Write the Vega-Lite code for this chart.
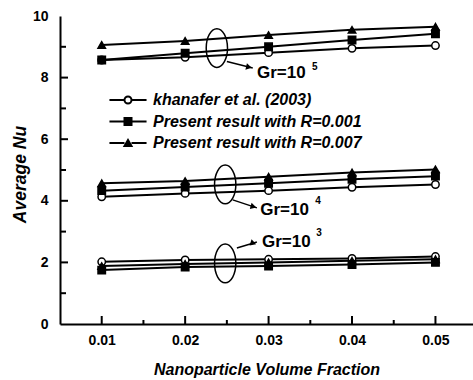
{
  "$schema": "https://vega.github.io/schema/vega-lite/v6.json",
  "width": 413,
  "height": 308,
  "autosize": {"type": "none"},
  "padding": {"left": 60, "top": 16, "right": 0, "bottom": 56},
  "background": "white",
  "config": {
    "view": {"stroke": null},
    "font": "Liberation Sans",
    "axis": {
      "domainColor": "black", "domainWidth": 2, "tickColor": "black", "tickWidth": 2,
      "labelColor": "black", "labelFont": "Liberation Sans", "labelFontWeight": "bold", "labelFontSize": 14,
      "titleFont": "Liberation Sans", "titleFontWeight": "bold", "titleFontStyle": "italic",
      "titleColor": "black", "grid": false
    },
    "legend": {
      "labelFont": "Liberation Sans", "labelFontWeight": "bold", "labelFontStyle": "italic", "labelFontSize": 16,
      "labelColor": "black", "labelLimit": 400, "symbolStrokeColor": "black", "symbolStrokeWidth": 2, "symbolSize": 49,
      "symbolOpacity": 1, "padding": 0
    }
  },
  "resolve": {"axis": {"x": "independent", "y": "independent"}},
  "datasets": {
    "nu": [
      {"phi": 0.01, "Nu": 8.57, "series": "khanafer et al. (2003)", "Gr": "1e5"},
      {"phi": 0.02, "Nu": 8.66, "series": "khanafer et al. (2003)", "Gr": "1e5"},
      {"phi": 0.03, "Nu": 8.81, "series": "khanafer et al. (2003)", "Gr": "1e5"},
      {"phi": 0.04, "Nu": 8.95, "series": "khanafer et al. (2003)", "Gr": "1e5"},
      {"phi": 0.05, "Nu": 9.04, "series": "khanafer et al. (2003)", "Gr": "1e5"},
      {"phi": 0.01, "Nu": 4.13, "series": "khanafer et al. (2003)", "Gr": "1e4"},
      {"phi": 0.02, "Nu": 4.24, "series": "khanafer et al. (2003)", "Gr": "1e4"},
      {"phi": 0.03, "Nu": 4.33, "series": "khanafer et al. (2003)", "Gr": "1e4"},
      {"phi": 0.04, "Nu": 4.44, "series": "khanafer et al. (2003)", "Gr": "1e4"},
      {"phi": 0.05, "Nu": 4.53, "series": "khanafer et al. (2003)", "Gr": "1e4"},
      {"phi": 0.01, "Nu": 2.02, "series": "khanafer et al. (2003)", "Gr": "1e3"},
      {"phi": 0.02, "Nu": 2.08, "series": "khanafer et al. (2003)", "Gr": "1e3"},
      {"phi": 0.03, "Nu": 2.1, "series": "khanafer et al. (2003)", "Gr": "1e3"},
      {"phi": 0.04, "Nu": 2.13, "series": "khanafer et al. (2003)", "Gr": "1e3"},
      {"phi": 0.05, "Nu": 2.19, "series": "khanafer et al. (2003)", "Gr": "1e3"},
      {"phi": 0.01, "Nu": 8.57, "series": "Present result with R=0.001", "Gr": "1e5"},
      {"phi": 0.02, "Nu": 8.79, "series": "Present result with R=0.001", "Gr": "1e5"},
      {"phi": 0.03, "Nu": 9.0, "series": "Present result with R=0.001", "Gr": "1e5"},
      {"phi": 0.04, "Nu": 9.22, "series": "Present result with R=0.001", "Gr": "1e5"},
      {"phi": 0.05, "Nu": 9.42, "series": "Present result with R=0.001", "Gr": "1e5"},
      {"phi": 0.01, "Nu": 4.33, "series": "Present result with R=0.001", "Gr": "1e4"},
      {"phi": 0.02, "Nu": 4.45, "series": "Present result with R=0.001", "Gr": "1e4"},
      {"phi": 0.03, "Nu": 4.57, "series": "Present result with R=0.001", "Gr": "1e4"},
      {"phi": 0.04, "Nu": 4.7, "series": "Present result with R=0.001", "Gr": "1e4"},
      {"phi": 0.05, "Nu": 4.8, "series": "Present result with R=0.001", "Gr": "1e4"},
      {"phi": 0.01, "Nu": 1.75, "series": "Present result with R=0.001", "Gr": "1e3"},
      {"phi": 0.02, "Nu": 1.85, "series": "Present result with R=0.001", "Gr": "1e3"},
      {"phi": 0.03, "Nu": 1.88, "series": "Present result with R=0.001", "Gr": "1e3"},
      {"phi": 0.04, "Nu": 1.93, "series": "Present result with R=0.001", "Gr": "1e3"},
      {"phi": 0.05, "Nu": 2.0, "series": "Present result with R=0.001", "Gr": "1e3"},
      {"phi": 0.01, "Nu": 9.06, "series": "Present result with R=0.007", "Gr": "1e5"},
      {"phi": 0.02, "Nu": 9.19, "series": "Present result with R=0.007", "Gr": "1e5"},
      {"phi": 0.03, "Nu": 9.38, "series": "Present result with R=0.007", "Gr": "1e5"},
      {"phi": 0.04, "Nu": 9.55, "series": "Present result with R=0.007", "Gr": "1e5"},
      {"phi": 0.05, "Nu": 9.65, "series": "Present result with R=0.007", "Gr": "1e5"},
      {"phi": 0.01, "Nu": 4.57, "series": "Present result with R=0.007", "Gr": "1e4"},
      {"phi": 0.02, "Nu": 4.64, "series": "Present result with R=0.007", "Gr": "1e4"},
      {"phi": 0.03, "Nu": 4.78, "series": "Present result with R=0.007", "Gr": "1e4"},
      {"phi": 0.04, "Nu": 4.92, "series": "Present result with R=0.007", "Gr": "1e4"},
      {"phi": 0.05, "Nu": 5.02, "series": "Present result with R=0.007", "Gr": "1e4"},
      {"phi": 0.01, "Nu": 1.88, "series": "Present result with R=0.007", "Gr": "1e3"},
      {"phi": 0.02, "Nu": 1.95, "series": "Present result with R=0.007", "Gr": "1e3"},
      {"phi": 0.03, "Nu": 2.0, "series": "Present result with R=0.007", "Gr": "1e3"},
      {"phi": 0.04, "Nu": 2.05, "series": "Present result with R=0.007", "Gr": "1e3"},
      {"phi": 0.05, "Nu": 2.1, "series": "Present result with R=0.007", "Gr": "1e3"}
    ],
    "xMajor": [{"t": 0.01}, {"t": 0.02}, {"t": 0.03}, {"t": 0.04}, {"t": 0.05}],
    "xMinor": [{"t": 0.015}, {"t": 0.025}, {"t": 0.035}, {"t": 0.045}],
    "yMajor": [{"t": 2}, {"t": 4}, {"t": 6}, {"t": 8}],
    "yMinor": [{"t": 1}, {"t": 3}, {"t": 5}, {"t": 7}, {"t": 9}],
    "ellipses": [
      {"phi": 0.0238, "Nu": 8.96},
      {"phi": 0.0248, "Nu": 4.53},
      {"phi": 0.0248, "Nu": 1.97}
    ],
    "arrows": [
      {"Gr": "1e5", "phi": 0.0250, "Nu": 8.52, "phi2": 0.0281, "Nu2": 8.31, "hphi": 0.02765, "hNu": 8.34},
      {"Gr": "1e4", "phi": 0.0257, "Nu": 4.03, "phi2": 0.0286, "Nu2": 3.77, "hphi": 0.02819, "hNu": 3.81},
      {"Gr": "1e3", "phi": 0.0262, "Nu": 2.47, "phi2": 0.0286, "Nu2": 2.66, "hphi": 0.02817, "hNu": 2.62}
    ],
    "labels": [
      {"phi": 0.0286, "Nu": 7.98, "text": "Gr=10"},
      {"phi": 0.0290, "Nu": 3.54, "text": "Gr=10"},
      {"phi": 0.0292, "Nu": 2.51, "text": "Gr=10"}
    ],
    "sups": [
      {"phi": 0.0352, "Nu": 8.25, "text": "5"},
      {"phi": 0.0356, "Nu": 3.9, "text": "4"},
      {"phi": 0.0357, "Nu": 2.86, "text": "3"}
    ]
  },
  "layer": [
    {
      "data": {"name": "nu"},
      "mark": {"type": "line", "color": "black", "strokeWidth": 2},
      "encoding": {
        "x": {
          "field": "phi", "type": "quantitative",
          "scale": {"domain": [0.005, 0.0545], "nice": false, "zero": false},
          "axis": {
            "title": "Nanoparticle Volume Fraction",
            "titleFontSize": 16,
            "values": [0.01, 0.02, 0.03, 0.04, 0.05],
            "format": ".2f",
            "ticks": false,
            "labelPadding": 9,
            "titleBaseline": "middle",
            "titleY": 45
          }
        },
        "y": {
          "field": "Nu", "type": "quantitative",
          "scale": {"domain": [0, 10], "nice": false},
          "axis": {
            "title": "Average Nu",
            "titleFontSize": 17.5,
            "values": [0, 2, 4, 6, 8, 10],
            "ticks": false,
            "labelPadding": 12,
            "titleBaseline": "middle",
            "titleX": -40,
            "titleY": 158
          }
        },
        "detail": [{"field": "Gr"}, {"field": "series"}],
        "opacity": {
          "field": "series", "type": "nominal",
          "scale": {"domain": ["Present result with R=0.007", "Present result with R=0.001", "khanafer et al. (2003)"], "range": [1, 1, 1]},
          "legend": {"title": null, "orient": "none", "legendX": 60, "legendY": 76, "direction": "vertical",
                     "labelOffset": 17, "rowPadding": 5.5, "labelExpr": "''",
                     "symbolType": "M-5.3,0H-1M1,0H5.3", "symbolSize": 49, "symbolStrokeWidth": 2, "symbolStrokeColor": "black"}
        }
      }
    },
    {
      "data": {"name": "nu"},
      "mark": {"type": "point", "filled": false, "stroke": "black", "strokeWidth": 1.5, "size": 55, "opacity": 1},
      "encoding": {
        "x": {"field": "phi", "type": "quantitative", "axis": null},
        "y": {"field": "Nu", "type": "quantitative", "axis": null},
        "fill": {
          "field": "series", "type": "nominal",
          "scale": {"domain": ["khanafer et al. (2003)", "Present result with R=0.001", "Present result with R=0.007"], "range": ["white", "black", "black"]},
          "legend": {"title": null, "orient": "none", "legendX": 60, "legendY": 76, "direction": "vertical", "labelOffset": 17, "rowPadding": 5.5, "symbolStrokeColor": "black"}
        },
        "shape": {
          "field": "series", "type": "nominal",
          "scale": {"domain": ["khanafer et al. (2003)", "Present result with R=0.001", "Present result with R=0.007"], "range": ["circle", "square", "triangle-up"]},
          "legend": {"title": null, "orient": "none", "legendX": 60, "legendY": 76, "direction": "vertical", "labelOffset": 17, "rowPadding": 5.5, "symbolStrokeColor": "black"}
        },
        "stroke": {
          "field": "series", "type": "nominal",
          "scale": {"domain": ["khanafer et al. (2003)", "Present result with R=0.001", "Present result with R=0.007"], "range": ["black", "black", "black"]},
          "legend": {"title": null, "orient": "none", "legendX": 60, "legendY": 76, "direction": "vertical", "labelOffset": 17, "rowPadding": 5.5, "symbolStrokeColor": "black"}
        }
      }
    },
    {
      "data": {"name": "xMajor"},
      "mark": {"type": "rule", "color": "black", "strokeWidth": 2},
      "encoding": {
        "x": {"field": "t", "type": "quantitative", "axis": null},
        "y": {"datum": 0, "axis": null},
        "y2": {"datum": 0.26}
      }
    },
    {
      "data": {"name": "xMinor"},
      "mark": {"type": "rule", "color": "black", "strokeWidth": 2},
      "encoding": {
        "x": {"field": "t", "type": "quantitative", "axis": null},
        "y": {"datum": 0, "axis": null},
        "y2": {"datum": 0.13}
      }
    },
    {
      "data": {"name": "yMajor"},
      "mark": {"type": "rule", "color": "black", "strokeWidth": 2},
      "encoding": {
        "y": {"field": "t", "type": "quantitative", "axis": null},
        "x": {"datum": 0.005, "axis": null},
        "x2": {"datum": 0.00596}
      }
    },
    {
      "data": {"name": "yMinor"},
      "mark": {"type": "rule", "color": "black", "strokeWidth": 2},
      "encoding": {
        "y": {"field": "t", "type": "quantitative", "axis": null},
        "x": {"datum": 0.005, "axis": null},
        "x2": {"datum": 0.00572}
      }
    },
    {
      "data": {"name": "ellipses"},
      "mark": {"type": "point", "shape": "M0,-1A0.55,1,0,1,1,0,1A0.55,1,0,1,1,0,-1Z", "size": 1500, "filled": false, "stroke": "black", "strokeWidth": 1.5, "opacity": 1},
      "encoding": {
        "x": {"field": "phi", "type": "quantitative", "axis": null},
        "y": {"field": "Nu", "type": "quantitative", "axis": null}
      }
    },
    {
      "data": {"name": "arrows"},
      "mark": {"type": "rule", "color": "black", "strokeWidth": 1.5},
      "encoding": {
        "x": {"field": "phi", "type": "quantitative", "axis": null},
        "y": {"field": "Nu", "type": "quantitative", "axis": null},
        "x2": {"field": "phi2"},
        "y2": {"field": "Nu2"}
      }
    },
    {
      "data": {"name": "arrows"},
      "mark": {"type": "point", "shape": "triangle-right", "filled": true, "color": "black", "size": 45, "opacity": 1},
      "encoding": {
        "x": {"field": "hphi", "type": "quantitative", "axis": null},
        "y": {"field": "hNu", "type": "quantitative", "axis": null},
        "angle": {"field": "Gr", "type": "nominal", "scale": {"domain": ["1e5", "1e4", "1e3"], "range": [13, 18, -17]}, "legend": null}
      }
    },
    {
      "data": {"name": "labels"},
      "mark": {"type": "text", "align": "left", "baseline": "alphabetic", "font": "Liberation Sans", "fontWeight": "bold", "fontSize": 17, "color": "black"},
      "encoding": {
        "x": {"field": "phi", "type": "quantitative", "axis": null},
        "y": {"field": "Nu", "type": "quantitative", "axis": null},
        "text": {"field": "text"}
      }
    },
    {
      "data": {"name": "sups"},
      "mark": {"type": "text", "align": "left", "baseline": "alphabetic", "font": "Liberation Sans", "fontWeight": "bold", "fontSize": 10, "color": "black"},
      "encoding": {
        "x": {"field": "phi", "type": "quantitative", "axis": null},
        "y": {"field": "Nu", "type": "quantitative", "axis": null},
        "text": {"field": "text"}
      }
    },
    {
      "mark": {"type": "rule", "color": "black", "strokeWidth": 2},
      "encoding": {"y": {"datum": 10, "axis": null}}
    }
  ]
}
